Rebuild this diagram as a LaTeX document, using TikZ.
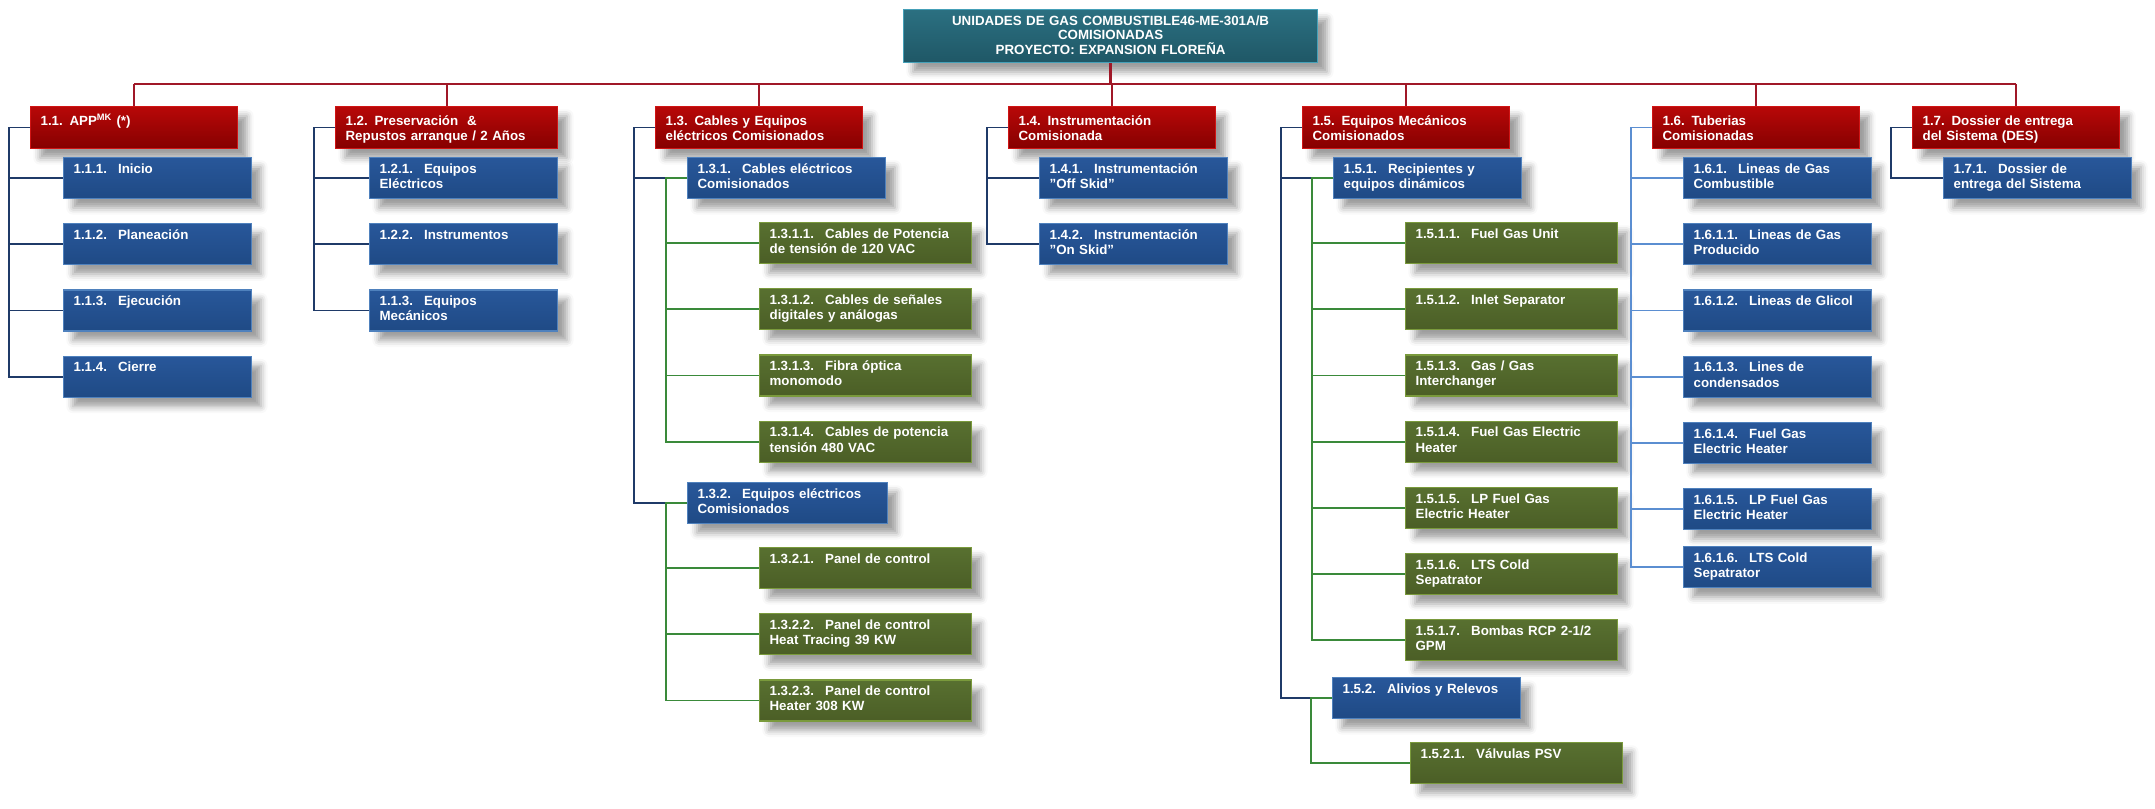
\documentclass[tikz,border=0pt]{standalone}
\usepackage{fontspec}
\setmainfont{Liberation Sans}
\usetikzlibrary{positioning,shadows.blur}
\definecolor{tealbase}{HTML}{1F5766}
\definecolor{tealtop}{HTML}{2B7081}
\definecolor{tealrim}{HTML}{45A0B8}
\definecolor{redbase}{HTML}{850000}
\definecolor{redtop}{HTML}{B80808}
\definecolor{redrim}{HTML}{D01414}
\definecolor{bluebase}{HTML}{1F4A85}
\definecolor{bluetop}{HTML}{28579A}
\definecolor{bluerim}{HTML}{4F81BD}
\definecolor{greenbase}{HTML}{4B5E26}
\definecolor{greentop}{HTML}{587030}
\definecolor{greenrim}{HTML}{7A9A3C}
\definecolor{navyln}{HTML}{1F3A68}
\definecolor{skyln}{HTML}{5B8ED1}
\definecolor{greenln}{HTML}{3A8A3A}
\definecolor{redln}{HTML}{A01828}
\tikzset{
  box/.style={rectangle,anchor=north west,align=left,text=white,
              font=\bfseries\fontsize{10pt}{11.5pt}\selectfont,
              inner xsep=7.5pt,inner ysep=0pt,line width=0.9pt,
              text height=11.7pt,text depth=19.05pt,
              blur shadow={shadow xshift=7pt,shadow yshift=-7pt,shadow blur radius=5pt,shadow opacity=38}},
  rootbox/.style={box,top color=tealtop,bottom color=tealbase,draw=tealrim,align=center,text width=295.5pt,
              font=\bfseries\fontsize{10pt}{10.75pt}\selectfont,text height=12pt,text depth=27.75pt},
  redbox/.style={box,top color=redtop,bottom color=redbase,draw=redrim,text width=140.25pt,text height=14pt,text depth=17.5pt},
  bluebox/.style={box,top color=bluetop,bottom color=bluebase,draw=bluerim,text width=126pt},
  greenbox/.style={box,top color=greentop,bottom color=greenbase,draw=greenrim,text width=144pt},
  lk/.style={line width=1.3pt,draw=navyln},
  lkl/.style={lk,draw=skyln},
  lkg/.style={lk,draw=greenln},
  lkr/.style={line width=1.4pt,draw=redln},
}
\begin{document}
\begin{tikzpicture}[x=0.75pt,y=-0.75pt,node distance=18pt]
\useasboundingbox (0,0) rectangle (2155,809);
\node[rootbox] (root) at (903,9) {UNIDADES DE GAS COMBUSTIBLE46-ME-301A/B\\COMISIONADAS\\PROYECTO: EXPANSION FLOREÑA};
% nivel 1
\node[redbox] (n11) at (30,106) {1.1. APP\textsuperscript{MK} (*)};
\node[redbox,text width=151.5pt] (n12) at (335,106) {1.2. Preservación~ \&\\Repustos arranque / 2 Años};
\node[redbox] (n13) at (655,106) {1.3. Cables y Equipos\\eléctricos Comisionados};
\node[redbox] (n14) at (1008,106) {1.4. Instrumentación\\Comisionada};
\node[redbox] (n15) at (1302,106) {1.5. Equipos Mecánicos\\Comisionados};
\node[redbox] (n16) at (1652,106) {1.6. Tuberias\\Comisionadas};
\node[redbox] (n17) at (1912,106) {1.7. Dossier de entrega\\del Sistema (DES)};
% 1.1
\node[bluebox] (n111) at (63,157) {1.1.1.~ Inicio};
\node[bluebox,below=of n111] (n112) {1.1.2.~ Planeación};
\node[bluebox,below=of n112] (n113) {1.1.3.~ Ejecución};
\node[bluebox,below=of n113] (n114) {1.1.4.~ Cierre};
% 1.2
\node[bluebox] (n121) at (369,157) {1.2.1.~ Equipos\\Eléctricos};
\node[bluebox,below=of n121] (n122) {1.2.2.~ Instrumentos};
\node[bluebox,below=of n122] (n123) {1.1.3.~ Equipos\\Mecánicos};
% 1.3
\node[bluebox,text width=133.5pt] (n131) at (687,157) {1.3.1.~ Cables eléctricos\\Comisionados};
\node[greenbox] (n1311) at (759,222) {1.3.1.1.~ Cables de Potencia\\de tensión de 120 VAC};
\node[greenbox,below=of n1311] (n1312) {1.3.1.2.~ Cables de señales\\digitales y análogas};
\node[greenbox,below=of n1312] (n1313) {1.3.1.3.~ Fibra óptica\\monomodo};
\node[greenbox,below=of n1313] (n1314) {1.3.1.4.~ Cables de potencia\\tensión 480 VAC};
\node[bluebox,text width=135pt] (n132) at (687,482) {1.3.2.~ Equipos eléctricos\\Comisionados};
\node[greenbox] (n1321) at (759,547) {1.3.2.1.~ Panel de control};
\node[greenbox,below=of n1321] (n1322) {1.3.2.2.~ Panel de control\\Heat Tracing 39 KW};
\node[greenbox,below=of n1322] (n1323) {1.3.2.3.~ Panel de control\\Heater 308 KW};
% 1.4
\node[bluebox] (n141) at (1039,157) {1.4.1.~ Instrumentación\\"Off Skid"};
\node[bluebox,below=of n141] (n142) {1.4.2.~ Instrumentación\\"On Skid"};
% 1.5
\node[bluebox] (n151) at (1333,157) {1.5.1.~ Recipientes y\\equipos dinámicos};
\node[greenbox] (n1511) at (1405,222) {1.5.1.1.~ Fuel Gas Unit};
\node[greenbox,below=of n1511] (n1512) {1.5.1.2.~ Inlet Separator};
\node[greenbox,below=of n1512] (n1513) {1.5.1.3.~ Gas / Gas\\Interchanger};
\node[greenbox,below=of n1513] (n1514) {1.5.1.4.~ Fuel Gas Electric\\Heater};
\node[greenbox,below=of n1514] (n1515) {1.5.1.5.~ LP Fuel Gas\\Electric Heater};
\node[greenbox,below=of n1515] (n1516) {1.5.1.6.~ LTS Cold\\Sepatrator};
\node[greenbox,below=of n1516] (n1517) {1.5.1.7.~ Bombas RCP 2-1/2\\GPM};
\node[bluebox] (n152) at (1332,677) {1.5.2.~ Alivios y Relevos};
\node[greenbox] (n1521) at (1410,742) {1.5.2.1.~ Válvulas PSV};
% 1.6
\node[bluebox] (n161) at (1683,157) {1.6.1.~ Lineas de Gas\\Combustible};
\node[bluebox,below=of n161] (n1611) {1.6.1.1.~ Lineas de Gas\\Producido};
\node[bluebox,below=of n1611] (n1612) {1.6.1.2.~ Lineas de Glicol};
\node[bluebox,below=of n1612] (n1613) {1.6.1.3.~ Lines de\\condensados};
\node[bluebox,below=of n1613] (n1614) {1.6.1.4.~ Fuel Gas\\Electric Heater};
\node[bluebox,below=of n1614] (n1615) {1.6.1.5.~ LP Fuel Gas\\Electric Heater};
\node[bluebox,below=12pt of n1615] (n1616) {1.6.1.6.~ LTS Cold\\Sepatrator};
% 1.7
\node[bluebox] (n171) at (1943,157) {1.7.1.~ Dossier de\\entrega del Sistema};
% conectores
\coordinate (bus) at (0,84);
\draw[lkr,line width=2.2pt] (root.south) -- (root.south|-bus);
\draw[lkr] (n11.north|-bus) -- (n17.north|-bus);
\foreach \n in {n11,n12,n13,n14,n15,n16,n17}
  \draw[lkr] (\n.north|-bus) -- (\n.north);
\foreach \p/\kids in {n11/{n111,n112,n113,n114},n12/{n121,n122,n123},n13/{n131,n132},
                      n14/{n141,n142},n15/{n151,n152},n17/{n171}}
  \foreach \k in \kids
    \draw[lk] (\p.west) -- ++(-21,0) |- (\k.west);
\foreach \k in {n161,n1611,n1612,n1613,n1614,n1615,n1616}
  \draw[lkl] (n16.west) -- ++(-21,0) |- (\k.west);
\foreach \p/\kids in {n131/{n1311,n1312,n1313,n1314},n132/{n1321,n1322,n1323},
                      n151/{n1511,n1512,n1513,n1514,n1515,n1516,n1517},n152/{n1521}}
  \foreach \k in \kids
    \draw[lkg] (\p.west) -- ++(-21,0) |- (\k.west);
\end{tikzpicture}
\end{document}
